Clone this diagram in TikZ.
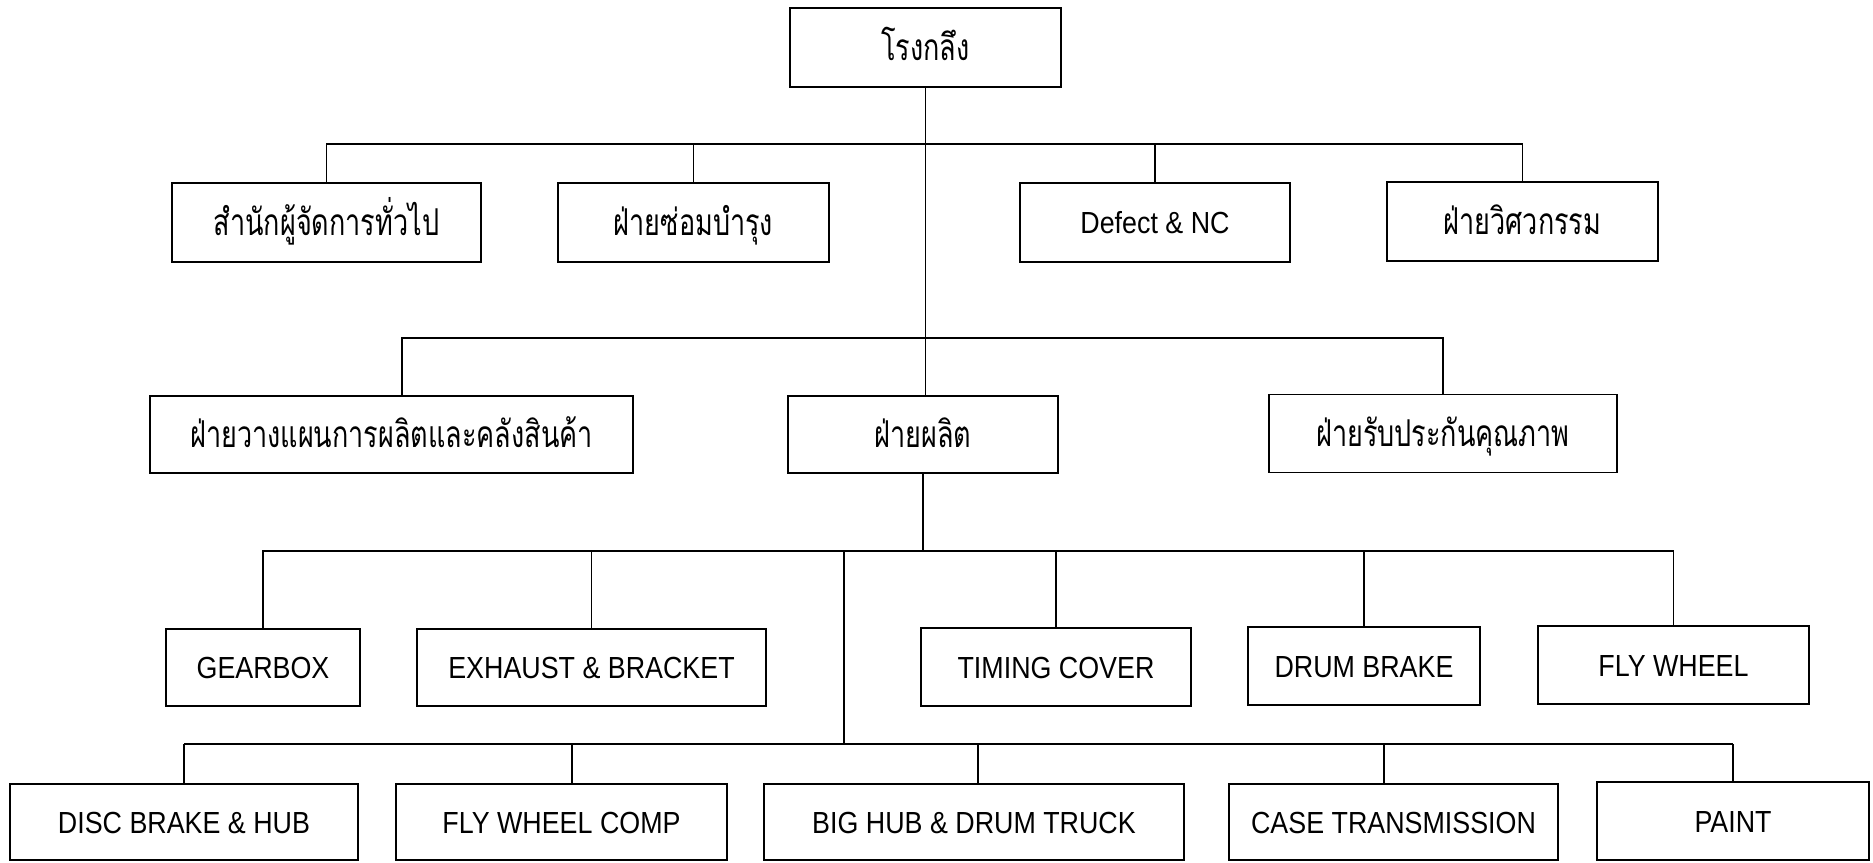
\documentclass[tikz,border=0pt]{standalone}
\usepackage{fontspec}
\setmainfont[FakeStretch=0.88]{Liberation Sans}
\newfontfamily\thaifont[Script=Thai,FakeStretch=0.73]{Loma}
\begin{document}
\begin{tikzpicture}[x=1pt,y=-1pt,
  box/.style={draw, line width=1.8pt, inner sep=0pt, align=center},
  lat/.style={box, font=\fontsize{30.5}{36}\selectfont, text height=22pt, text depth=0pt},
  thai/.style={box, font=\thaifont\fontsize{37}{42}\selectfont, text height=26pt, text depth=0pt},
  link/.style={line width=1.6pt}]
\useasboundingbox[fill=white] (0,0) rectangle (1873,862);
% level 0
\node[thai, minimum width=271pt, minimum height=79pt] (top) at (925.5,47.5) {โรงกลึง};
% level 1
\node[thai, minimum width=309pt, minimum height=79pt] (a1) at (326.5,222.5) {สำนักผู้จัดการทั่วไป};
\node[thai, minimum width=271pt, minimum height=79pt] (a2) at (693.5,222.5) {ฝ่ายซ่อมบำรุง};
\node[lat, minimum width=270pt, minimum height=79pt] (a3) at (1155,222.5) {Defect \& NC};
\node[thai, minimum width=271pt, minimum height=79pt] (a4) at (1522.5,221.5) {ฝ่ายวิศวกรรม};
% level 2
\node[thai, minimum width=483pt, minimum height=77pt] (b1) at (391.5,434.5) {ฝ่ายวางแผนการผลิตและคลังสินค้า};
\node[thai, minimum width=270pt, minimum height=77pt] (b2) at (923,434.5) {ฝ่ายผลิต};
\node[thai, minimum width=348pt, minimum height=78pt] (b3) at (1443,433.5) {ฝ่ายรับประกันคุณภาพ};
% level 3
\node[lat, minimum width=194pt, minimum height=77pt] (c1) at (263,667.5) {GEARBOX};
\node[lat, minimum width=349pt, minimum height=77pt] (c2) at (591.5,667.5) {EXHAUST \& BRACKET};
\node[lat, minimum width=270pt, minimum height=78pt] (c3) at (1056,667) {TIMING COVER};
\node[lat, minimum width=232pt, minimum height=78pt] (c4) at (1364,666) {DRUM BRAKE};
\node[lat, minimum width=271pt, minimum height=78pt] (c5) at (1673.5,665) {FLY WHEEL};
% level 4
\node[lat, minimum width=348pt, minimum height=76pt] (d1) at (184,822) {DISC BRAKE \& HUB};
\node[lat, minimum width=331pt, minimum height=76pt] (d2) at (561.5,822) {FLY WHEEL COMP};
\node[lat, minimum width=420pt, minimum height=76pt] (d3) at (974,822) {BIG HUB \& DRUM TRUCK};
\node[lat, minimum width=329pt, minimum height=76pt] (d4) at (1393.5,822) {CASE TRANSMISSION};
\node[lat, minimum width=272pt, minimum height=78pt] (d5) at (1733,821) {PAINT};
% bus coordinates
\coordinate (bus1) at (0,144);
\coordinate (bus3) at (0,551);
\coordinate (b1j) at (402,338);
\coordinate (t4) at (844,551);
\coordinate (bus4) at (0,744);
\coordinate (d1j) at (184,744);
\coordinate (d2j) at (572,744);
\coordinate (d3j) at (978,744);
\coordinate (d4j) at (1384,744);
\coordinate (d5j) at (1733,744);
% connectors
\draw[link] (top.south) -- (top.south |- b2.north);
\draw[link] (a1.north) -- (a1.north |- bus1) -| (a4.north);
\draw[link] (a2.north) -- (a2.north |- bus1);
\draw[link] (a3.north) -- (a3.north |- bus1);
\draw[link] (b1.north -| b1j) -- (b1j) -| (b3.north);
\draw[link] (b2.south) -- (b2.south |- bus3);
\draw[link] (c1.north) -- (c1.north |- bus3) -| (c5.north);
\draw[link] (c2.north) -- (c2.north |- bus3);
\draw[link] (c3.north) -- (c3.north |- bus3);
\draw[link] (c4.north) -- (c4.north |- bus3);
\draw[link] (t4) -- (t4 |- bus4);
\draw[link] (d1j) -- (d1j |- d1.north);
\draw[link] (d1j) -- (d5j);
\draw[link] (d2j) -- (d2j |- d2.north);
\draw[link] (d3j) -- (d3j |- d3.north);
\draw[link] (d4j) -- (d4j |- d4.north);
\draw[link] (d5j) -- (d5j |- d5.north);
\end{tikzpicture}
\end{document}
